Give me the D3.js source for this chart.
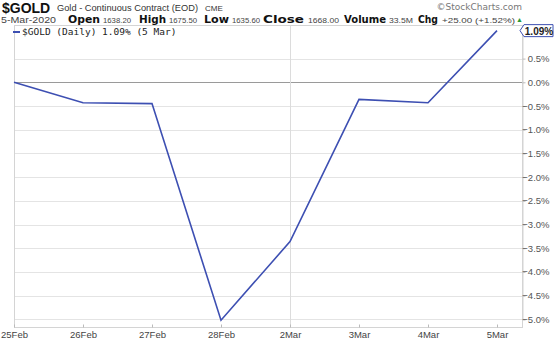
<!DOCTYPE html>
<html>
<head>
<meta charset="utf-8">
<script src="https://cdn.jsdelivr.net/npm/d3@7"></script>
<style>
  body { margin: 0; background: #fff; }
  svg { display: block; font-family: 'Liberation Sans', Arial, sans-serif; }
</style>
</head>
<body>
<div id="chart"></div>
<script>
'use strict'

const days = ['25Feb', '26Feb', '27Feb', '28Feb', '2Mar', '3Mar', '4Mar', '5Mar']
const changePct = [0.0, -0.43, -0.45, -5.02, -3.36, -0.36, -0.43, 1.09]
const yTicks = [0.5, 0.0, -0.5, -1.0, -1.5, -2.0, -2.5, -3.0, -3.5, -4.0, -4.5, -5.0]
const monthStarts = ['2Mar']
const quoteLabels = ['Open', 'High', 'Low', 'Close', 'Volume', 'Chg']
const quoteValues = ['1638.20', '1675.50', '1635.60', '1668.00', '33.5M', '+25.00 (+1.52%)']

const width = 560
const height = 344
const plot = { left: 14, right: 522, top: 25, bottom: 327 }
const lineColor = '#3d4fb2'

const svg = d3.select('#chart')
  .append('svg')
  .attr('width', width)
  .attr('height', height)

const xScale = d3.scalePoint()
  .domain(days)
  .range([14, 497])

const yScale = d3.scaleLinear()
  .domain([-5, 1])
  .range([319.3, 34.9])

// grid
svg.append('g')
  .selectAll('line')
  .data(yTicks)
  .enter()
  .append('line')
  .attr('x1', plot.left)
  .attr('x2', plot.right)
  .attr('y1', d => Math.round(yScale(d)) + 0.5)
  .attr('y2', d => Math.round(yScale(d)) + 0.5)
  .attr('stroke', d => d === 0 ? '#9a9a9a' : '#e4e4e4')
  .attr('stroke-width', 1)

svg.append('g')
  .selectAll('line')
  .data(monthStarts)
  .enter()
  .append('line')
  .attr('x1', d => Math.round(xScale(d)) + 0.5)
  .attr('x2', d => Math.round(xScale(d)) + 0.5)
  .attr('y1', plot.top)
  .attr('y2', plot.bottom)
  .attr('stroke', '#dcdcdc')

// frame
svg.append('rect')
  .attr('x', plot.left + 0.5)
  .attr('y', plot.top + 0.5)
  .attr('width', plot.right - plot.left)
  .attr('height', plot.bottom - plot.top)
  .attr('fill', 'none')
  .attr('stroke', '#d4d4d4')

// right axis
const yAxis = svg.append('g')
  .attr('transform', `translate(${plot.right + 0.5}, 0)`)
  .call(d3.axisRight(yScale).tickValues(yTicks).tickSize(3).tickPadding(2)
    .tickFormat(d => d3.format('.1f')(d) + '%'))
yAxis.select('.domain').attr('stroke', '#d4d4d4')
yAxis.selectAll('.tick line').attr('stroke', '#bbb')
yAxis.selectAll('text')
  .attr('x', 27)
  .attr('text-anchor', 'end')
  .attr('fill', '#555')
  .style('font-size', '9.5px')

// bottom axis
const xAxis = svg.append('g')
  .attr('transform', `translate(0, ${plot.bottom + 0.5})`)
  .call(d3.axisBottom(xScale).tickSize(-3).tickPadding(4))
xAxis.select('.domain').remove()
xAxis.selectAll('.tick line').attr('stroke', '#bbb')
xAxis.selectAll('text')
  .attr('fill', '#444')
  .style('font-size', '9.5px')

// price line
const line = d3.line()
  .x((d, i) => xScale(days[i]))
  .y(d => yScale(d))

svg.append('path')
  .datum(changePct)
  .attr('d', line)
  .attr('fill', 'none')
  .attr('stroke', lineColor)
  .attr('stroke-width', 1.6)

// last value tag
const lastY = yScale(changePct[changePct.length - 1])
svg.append('path')
  .attr('d', `M${plot.right - 2},${lastY} L${plot.right + 2},${lastY - 6} L${plot.right + 31},${lastY - 6} L${plot.right + 31},${lastY + 6} L${plot.right + 2},${lastY + 6} Z`)
  .attr('fill', '#fff')
  .attr('stroke', lineColor)
svg.append('text')
  .attr('x', plot.right + 17)
  .attr('y', lastY + 4)
  .attr('text-anchor', 'middle')
  .style('font-size', '10px')
  .style('font-weight', 'bold')
  .attr('fill', '#222')
  .text('1.09%')

// legend
svg.append('line')
  .attr('x1', 13).attr('x2', 20)
  .attr('y1', 32).attr('y2', 32)
  .attr('stroke', lineColor).attr('stroke-width', 2)
svg.append('text')
  .attr('x', 22)
  .attr('y', 35)
  .style('font-family', "'DejaVu Sans Mono', monospace")
  .style('font-size', '9.5px')
  .attr('fill', '#222')
  .text('$GOLD (Daily) 1.09% (5 Mar)')

// header line 1
svg.append('text')
  .attr('x', 2).attr('y', 12.5)
  .style('font-size', '14px').style('font-weight', 'bold')
  .attr('fill', '#111')
  .text('$GOLD')
svg.append('text')
  .attr('x', 57).attr('y', 11)
  .attr('textLength', 141)
  .attr('lengthAdjust', 'spacingAndGlyphs')
  .style('font-size', '9.3px')
  .attr('fill', '#333')
  .text('Gold - Continuous Contract (EOD)')
svg.append('text')
  .attr('x', 205).attr('y', 11)
  .style('font-size', '8px')
  .attr('fill', '#333')
  .text('CME')

svg.append('text')
  .attr('x', 522)
  .attr('y', 9.5)
  .attr('text-anchor', 'end')
  .style('font-family', "'DejaVu Sans', Verdana, sans-serif")
  .style('font-size', '9px')
  .attr('fill', '#777')
  .text('©StockCharts.com')

// header line 2
const labelX = [68, 139, 204, 263, 344, 418]
const labelW = [32, 27, 25, 41, 42, 20]
const valueX = [103, 169, 232, 308, 389, 442]
const valueW = [28, 28, 28, 31, 24, 73]

svg.append('text')
  .attr('x', 1).attr('y', 22.5)
  .attr('textLength', 55)
  .attr('lengthAdjust', 'spacingAndGlyphs')
  .style('font-size', '9px')
  .attr('fill', '#444')
  .text('5-Mar-2020')

svg.append('g')
  .selectAll('text')
  .data(quoteLabels)
  .enter()
  .append('text')
  .attr('x', (d, i) => labelX[i])
  .attr('y', 22.5)
  .attr('textLength', (d, i) => labelW[i])
  .attr('lengthAdjust', 'spacingAndGlyphs')
  .style('font-family', "'DejaVu Sans', Verdana, sans-serif")
  .style('font-size', '10px')
  .style('font-weight', 'bold')
  .attr('fill', '#111')
  .text(d => d)

svg.append('g')
  .selectAll('text')
  .data(quoteValues)
  .enter()
  .append('text')
  .attr('x', (d, i) => valueX[i])
  .attr('y', 22.5)
  .attr('textLength', (d, i) => valueW[i])
  .attr('lengthAdjust', 'spacingAndGlyphs')
  .style('font-size', '8px')
  .attr('fill', '#444')
  .text(d => d)

svg.append('text')
  .attr('x', 516).attr('y', 21.5)
  .style('font-size', '7px')
  .attr('fill', '#2a9a3a')
  .text('▲')
</script>
</body>
</html>
